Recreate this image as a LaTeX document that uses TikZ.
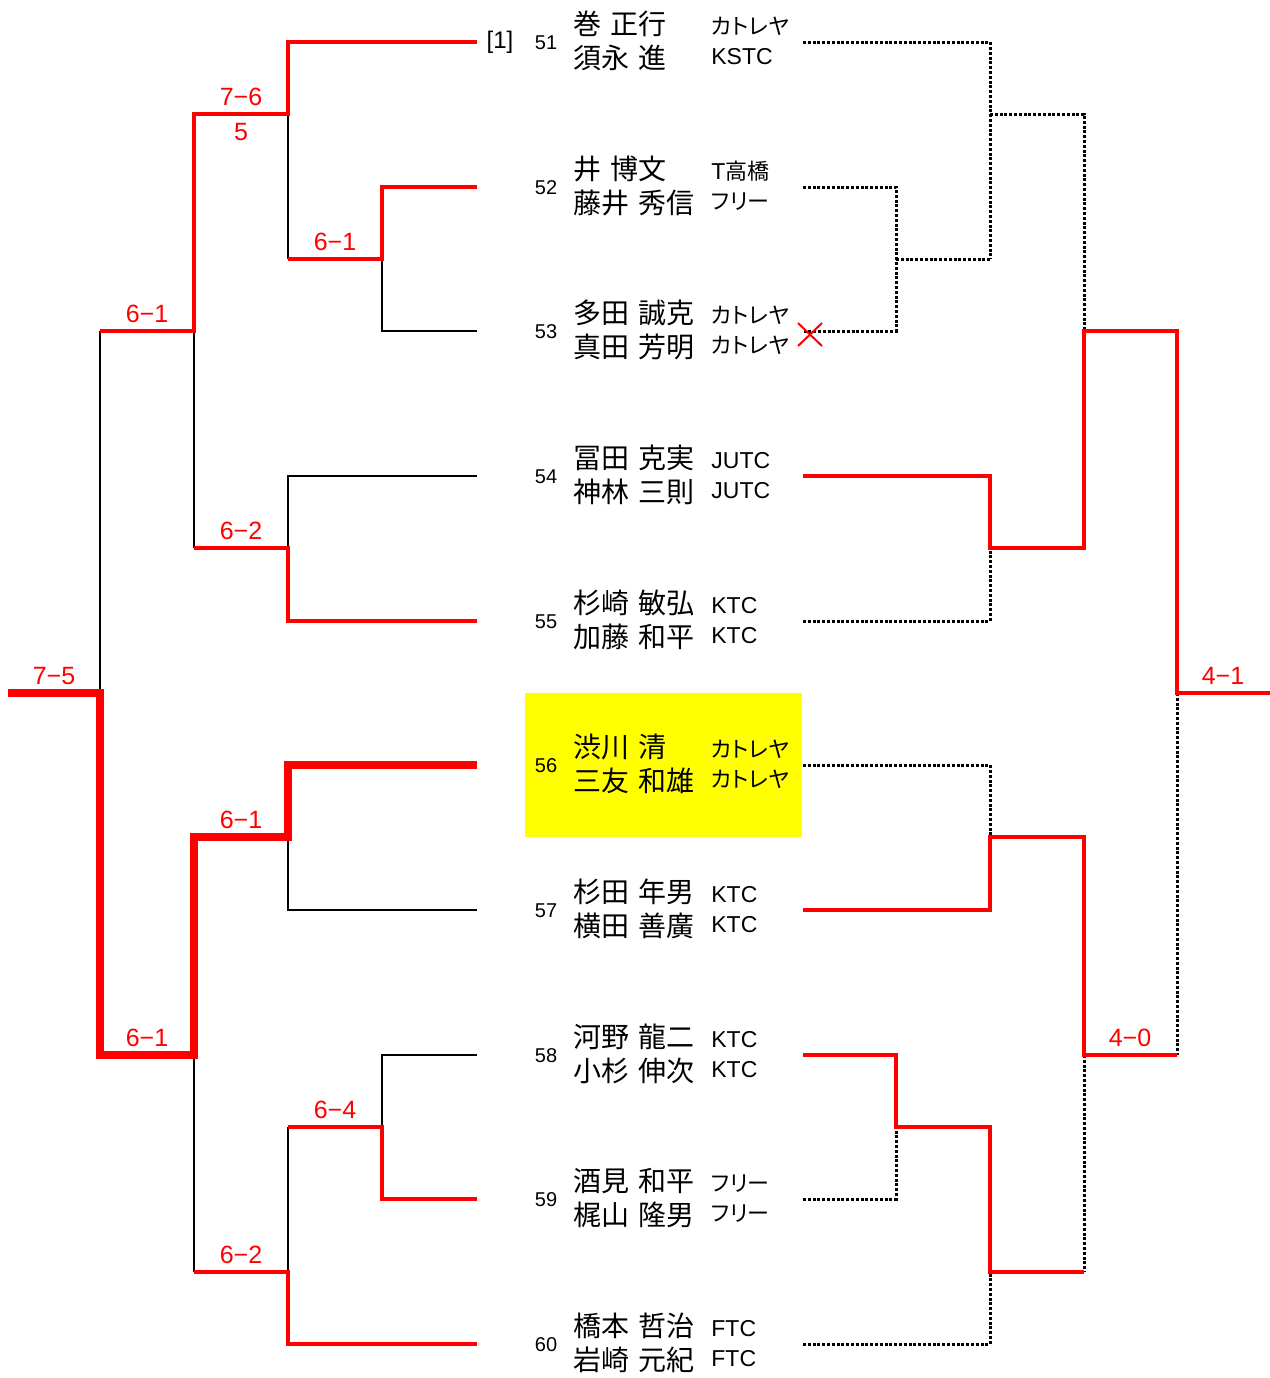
\documentclass[tikz,border=0pt]{standalone}
\usepackage{fontspec}
\setmainfont{Liberation Sans}
\newfontfamily\cjk[WordSpace=1.5]{Noto Sans CJK JP}
\newfontfamily\cjkp[RawFeature=+palt]{Noto Sans CJK JP}
\newcommand\jpc[1]{{\cjkp\fontsize{11pt}{11pt}\selectfont #1}}
\definecolor{hiyellow}{RGB}{255,255,0}
\definecolor{pured}{RGB}{255,0,0}
\tikzset{
  blk/.style={line width=1.35pt, black},
  rd/.style={line width=2.2pt, pured},
  rdthick/.style={line width=3.6pt, pured},
  dotl/.style={line width=1.5pt, black, dash pattern=on 1.5pt off 0.9pt},
  score/.style={text=pured, anchor=base, inner sep=0pt, font=\fontsize{12.5pt}{13pt}\selectfont},
  numst/.style={anchor=base, inner sep=0pt, font=\fontsize{10pt}{10pt}\selectfont},
  namest/.style={anchor=base west, inner sep=0pt, font=\cjk\fontsize{14pt}{14pt}\selectfont},
  clubst/.style={anchor=base west, inner sep=0pt, font=\fontsize{11.5pt}{12pt}\selectfont},
}
\newcommand\mkentry[6]{%
  \coordinate (L#1) at (477,#2);
  \coordinate (R#1) at (803,#2);
  \node[numst] (n#1) at (546,#2+7) {#1};
  \node[namest] (a#1) at (573,#2-7.4) {#3};
  \node[namest] (b#1) at (573,#2+26.6) {#4};
  \node[clubst] (c#1) at (711,#2-8) {#5};
  \node[clubst] (d#1) at (711,#2+22) {#6};
}
\begin{document}
\begin{tikzpicture}[x=0.5pt,y=-0.5pt]
\useasboundingbox (0,0) rectangle (1270,1378);
\fill[hiyellow] (525,693) rectangle (802,837);

\mkentry{51}{42}{巻 正行}{須永 進}{\jpc{カトレヤ}}{KSTC}
\mkentry{52}{187}{井 博文}{藤井 秀信}{T\jpc{高橋}}{\jpc{フリー}}
\mkentry{53}{331}{多田 誠克}{真田 芳明}{\jpc{カトレヤ}}{\jpc{カトレヤ}}
\mkentry{54}{476}{冨田 克実}{神林 三則}{JUTC}{JUTC}
\mkentry{55}{621}{杉崎 敏弘}{加藤 和平}{KTC}{KTC}
\mkentry{56}{765}{渋川 清}{三友 和雄}{\jpc{カトレヤ}}{\jpc{カトレヤ}}
\mkentry{57}{910}{杉田 年男}{横田 善廣}{KTC}{KTC}
\mkentry{58}{1055}{河野 龍二}{小杉 伸次}{KTC}{KTC}
\mkentry{59}{1199}{酒見 和平}{梶山 隆男}{\jpc{フリー}}{\jpc{フリー}}
\mkentry{60}{1344}{橋本 哲治}{岩崎 元紀}{FTC}{FTC}
\node[anchor=base, inner sep=0pt, font=\fontsize{12pt}{12pt}\selectfont] (seed) at (500,48) {[1]};

% junction coordinates, left side
\coordinate (A1) at (382,259);
\coordinate (A2) at (288,114);
\coordinate (A3) at (194,331);
\coordinate (A4) at (288,548);
\coordinate (A5) at (100,693);
\coordinate (A6) at (288,837);
\coordinate (A7) at (382,1127);
\coordinate (A8) at (288,1272);
\coordinate (A9) at (194,1055);
\coordinate (W) at (8,693);
% right side
\coordinate (B1) at (896,259);
\coordinate (B2) at (990,114);
\coordinate (B3) at (990,548);
\coordinate (B4) at (1084,331);
\coordinate (B5) at (1177,693);
\coordinate (B6) at (990,837);
\coordinate (B7) at (896,1127);
\coordinate (B8) at (990,1272);
\coordinate (B9) at (1084,1055);
\coordinate (E) at (1270,693);

% left bracket, black parts
\draw[blk] (L53) -- (L53 -| A1) -- (A1);
\draw[blk] (A1 -| A2) -- (A2);
\draw[blk] (L54) -- (L54 -| A4) -- (A4);
\draw[blk] (A4 -| A3) -- (A3);
\draw[blk] (A3 -| A5) -- (A5);
\draw[blk] (L57) -- (L57 -| A6) -- (A6);
\draw[blk] (L58) -- (L58 -| A7) -- (A7);
\draw[blk] (A7 -| A8) -- (A8);
\draw[blk] (A8 -| A9) -- (A9);

% left bracket, red parts
\draw[rd] (L51) -- (L51 -| A2) -- (A2) -- (A2 -| A3) -- (A3) -- (A3 -| A5);
\draw[rd] (L52) -- (L52 -| A1) -- (A1) -- (A1 -| A2);
\draw[rd] (L55) -- (L55 -| A4) -- (A4) -- (A4 -| A3);
\draw[rd] (L59) -- (L59 -| A7) -- (A7) -- (A7 -| A8);
\draw[rd] (L60) -- (L60 -| A8) -- (A8) -- (A8 -| A9);
\draw[rdthick] (L56) -- (L56 -| A6) -- (A6) -- (A6 -| A9) -- (A9) -- (A9 -| A5) -- (A5) -- (W);

% right bracket, dotted parts
\draw[dotl] (R51) -- (R51 -| B2) -- (B1 -| B2);
\draw[dotl] (R52) -- (R52 -| B1) -- (R53 -| B1) -- (R53);
\draw[dotl] (B1) -- (B1 -| B2);
\draw[dotl] (B2) -- (B2 -| B4) -- (B4);
\draw[dotl] (R55) -- (R55 -| B3) -- (B3);
\draw[dotl] (B5) -- (B5 |- B9);
\draw[dotl] (R56) -- (R56 -| B6) -- (B6);
\draw[dotl] (R59) -- (R59 -| B7) -- (B7);
\draw[dotl] (R60) -- (R60 -| B8) -- (B8);
\draw[dotl] (B9) -- (B9 |- B8);

% right bracket, red parts
\draw[rd] (R54) -- (R54 -| B3) -- (B3) -- (B3 -| B4) -- (B4) -- (B4 -| B5) -- (B5) -- (E);
\draw[rd] (R57) -- (R57 -| B6) -- (B6) -- (B6 -| B9) -- (B9) -- (B9 -| B5);
\draw[rd] (R58) -- (R58 -| B7) -- (B7) -- (B7 -| B8) -- (B8) -- (B8 -| B9);

% withdrawal mark
\draw[pured, line width=1pt] (798,323) -- (822,346) (822,323) -- (798,346);

% scores
\node[score] (s1) at (241,105) {7−6};
\node[score] (s1b) at (241,140) {5};
\node[score] (s2) at (335,250) {6−1};
\node[score] (s3) at (147,322) {6−1};
\node[score] (s4) at (241,539) {6−2};
\node[score] (s5) at (54,684) {7−5};
\node[score] (s6) at (241,828) {6−1};
\node[score] (s7) at (147,1046) {6−1};
\node[score] (s8) at (335,1118) {6−4};
\node[score] (s9) at (241,1263) {6−2};
\node[score] (s10) at (1223,684) {4−1};
\node[score] (s11) at (1130,1046) {4−0};
\end{tikzpicture}
\end{document}
